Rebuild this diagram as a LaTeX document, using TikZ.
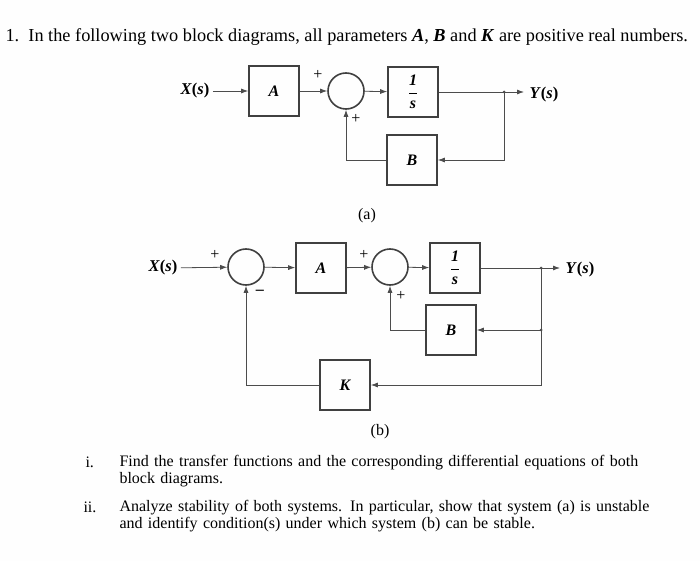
\documentclass[tikz,border=0pt]{standalone}
\usepackage{fontspec}
\setmainfont{Liberation Serif}
\usetikzlibrary{arrows.meta}
\begin{document}
\begin{tikzpicture}[x=1pt,y=-1pt,
  blk/.style={draw=black!75,line width=1.6pt,minimum width=#1,minimum height=#1,inner sep=0pt,font=\bfseries\itshape\fontsize{16}{16}\selectfont},
  blk/.default=50pt,
  sumc/.style={draw=black!75,line width=1.6pt,circle,minimum size=36pt,inner sep=0pt},
  sig/.style={draw=black!70,line width=0.8pt,-{Latex[length=7pt,width=5pt]}},
  ln/.style={draw=black!70,line width=0.8pt},
  lbl/.style={font=\bfseries\fontsize{16.5}{16.5}\selectfont},
  sgn/.style={font=\fontsize{16}{16}\selectfont},
  txt/.style={font=\fontsize{16}{17}\selectfont,anchor=west}]
\fill[white!95!black!4] (0,0) rectangle (700,561);
\useasboundingbox (0,0) rectangle (700,561);
\node[txt,font=\fontsize{18.3}{19}\selectfont] (title) at (2,37) {1.\ \ In the following two block diagrams, all parameters \textbf{\textit{A}}, \textbf{\textit{B}} and \textbf{\textit{K}} are positive real numbers.};
% (a)
\node[lbl] (xa) at (195,91) {\textit{X}(\textit{s})};
\node[blk] (aA) at (274,91) {A};
\node[sumc] (sa) at (346,91) {};
\node[blk] (ia) at (413,92) {$\displaystyle\frac{\textbf{1}}{\textbf{\textit{s}}}$};
\coordinate (ba) at (504,92);
\coordinate (yae) at (524,92);
\node[lbl,anchor=west] (ya) at (526,95) {\textit{Y}(\textit{s})};
\node[blk] (Ba) at (412,160) {B};
\draw[sig] (xa) -- (aA);
\draw[sig] (aA) -- (sa);
\draw[sig] (sa) -- (ia);
\draw[ln] (ia) -- (ba);
\draw[sig] (ba) -- (yae);
\fill[black!70] (ba) circle (1.5pt);
\draw[sig] (ba) |- (Ba);
\draw[sig] (Ba) -| (sa);
\node[sgn] (pa1) at (318,75) {+};
\node[sgn] (pa2) at (356,119) {+};
\node[font=\fontsize{16}{16}\selectfont] (capa) at (367,216) {(a)};
% (b)
\node[lbl] (xb) at (163,268) {\textit{X}(\textit{s})};
\node[sumc] (s1) at (246,267) {};
\node[blk] (bA) at (321,268) {A};
\node[sumc] (s2) at (390,267) {};
\node[blk] (ib) at (455,268) {$\displaystyle\frac{\textbf{1}}{\textbf{\textit{s}}}$};
\coordinate (bb) at (541,268);
\coordinate (ybe) at (560,268);
\node[lbl,anchor=west] (yb) at (562,270) {\textit{Y}(\textit{s})};
\node[blk] (Bb) at (451,330) {B};
\coordinate (bb2) at (541,330);
\node[blk] (Kb) at (345,385) {K};
\draw[sig] (xb) -- (s1);
\draw[sig] (s1) -- (bA);
\draw[sig] (bA) -- (s2);
\draw[sig] (s2) -- (ib);
\draw[ln] (ib) -- (bb);
\draw[sig] (bb) -- (ybe);
\fill[black!70] (bb) circle (1.5pt);
\fill[black!70] (bb2) circle (1.5pt);
\draw[ln] (bb) -- (bb2);
\draw[sig] (bb2) -- (Bb);
\draw[sig] (Bb) -| (s2);
\draw[sig] (bb2) |- (Kb);
\draw[sig] (Kb) -| (s1);
\node[sgn] (pb1) at (215,255) {+};
\node[sgn] (mb1) at (260,292) {\textbf{--}};
\node[sgn] (pb2) at (364,255) {+};
\node[sgn] (pb3) at (401,296) {+};
\node[font=\fontsize{16}{16}\selectfont] (capb) at (380,432) {(b)};
% questions
\node[txt] (q1n) at (82,462) {i.};
\node[txt,text width=540pt,align=left] (q1) at (116,471) {\hyphenpenalty=10000 Find the transfer functions and the corresponding differential equations of both block diagrams.};
\node[txt] (q2n) at (80,507) {ii.};
\node[txt,text width=540pt,align=left] (q2) at (116,516) {\hyphenpenalty=10000 Analyze stability of both systems. In particular, show that system (a) is unstable and identify condition(s) under which system (b) can be stable.};
\end{tikzpicture}
\end{document}
